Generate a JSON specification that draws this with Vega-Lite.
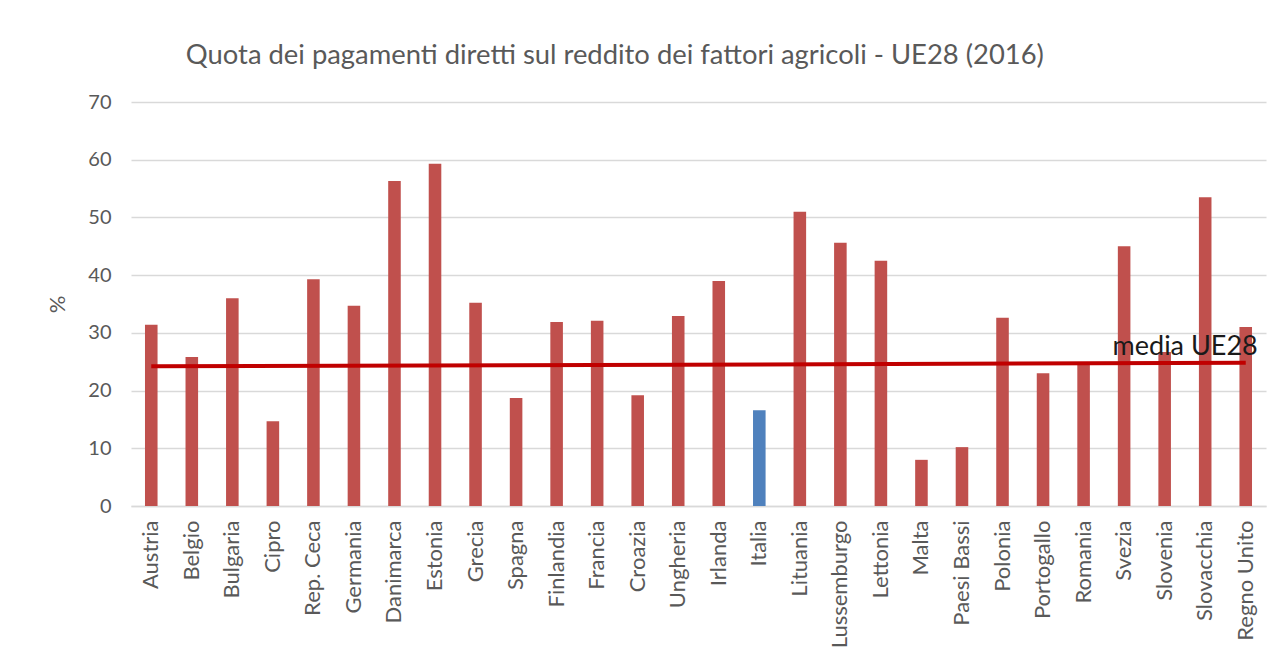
{
  "$schema": "https://vega.github.io/schema/vega-lite/v6.json",
  "width": 1135,
  "height": 404,
  "autosize": {"type": "none"},
  "padding": {"left": 131, "top": 102, "right": 18, "bottom": 153},
  "background": "white",
  "title": {
    "text": "Quota dei pagamenti diretti sul reddito dei fattori agricoli - UE28 (2016)",
    "anchor": "start",
    "dx": 139,
    "offset": 23,
    "font": "Lato",
    "fontSize": 27.4,
    "fontWeight": "normal",
    "color": "#595959"
  },
  "config": {
    "view": {"stroke": null},
    "font": "Lato"
  },
  "datasets": {
    "bars": [
      {"paese": "Austria", "quota": 31.4, "gruppo": "altri"},
      {"paese": "Belgio", "quota": 25.8, "gruppo": "altri"},
      {"paese": "Bulgaria", "quota": 36.0, "gruppo": "altri"},
      {"paese": "Cipro", "quota": 14.7, "gruppo": "altri"},
      {"paese": "Rep. Ceca", "quota": 39.3, "gruppo": "altri"},
      {"paese": "Germania", "quota": 34.7, "gruppo": "altri"},
      {"paese": "Danimarca", "quota": 56.3, "gruppo": "altri"},
      {"paese": "Estonia", "quota": 59.3, "gruppo": "altri"},
      {"paese": "Grecia", "quota": 35.2, "gruppo": "altri"},
      {"paese": "Spagna", "quota": 18.7, "gruppo": "altri"},
      {"paese": "Finlandia", "quota": 31.9, "gruppo": "altri"},
      {"paese": "Francia", "quota": 32.1, "gruppo": "altri"},
      {"paese": "Croazia", "quota": 19.2, "gruppo": "altri"},
      {"paese": "Ungheria", "quota": 32.9, "gruppo": "altri"},
      {"paese": "Irlanda", "quota": 39.0, "gruppo": "altri"},
      {"paese": "Italia", "quota": 16.6, "gruppo": "Italia"},
      {"paese": "Lituania", "quota": 51.0, "gruppo": "altri"},
      {"paese": "Lussemburgo", "quota": 45.6, "gruppo": "altri"},
      {"paese": "Lettonia", "quota": 42.5, "gruppo": "altri"},
      {"paese": "Malta", "quota": 8.0, "gruppo": "altri"},
      {"paese": "Paesi Bassi", "quota": 10.2, "gruppo": "altri"},
      {"paese": "Polonia", "quota": 32.6, "gruppo": "altri"},
      {"paese": "Portogallo", "quota": 23.0, "gruppo": "altri"},
      {"paese": "Romania", "quota": 24.5, "gruppo": "altri"},
      {"paese": "Svezia", "quota": 45.0, "gruppo": "altri"},
      {"paese": "Slovenia", "quota": 26.7, "gruppo": "altri"},
      {"paese": "Slovacchia", "quota": 53.5, "gruppo": "altri"},
      {"paese": "Regno Unito", "quota": 31.0, "gruppo": "altri"}
    ],
    "media": [
      {"paese": "Austria", "valore": 24.2},
      {"paese": "Regno Unito", "valore": 24.8}
    ],
    "etichetta": [
      {"paese": "Regno Unito", "valore": 27.6, "testo": "media UE28"}
    ]
  },
  "layer": [
    {
      "data": {"name": "bars"},
      "mark": {"type": "bar"},
      "encoding": {
        "x": {
          "field": "paese",
          "type": "nominal",
          "sort": null,
          "scale": {"paddingInner": 0.69, "paddingOuter": 0.345},
          "axis": {
            "title": null,
            "labelAngle": -90,
            "labelAlign": "right",
            "labelBaseline": "middle",
            "labelFontSize": 22,
            "labelColor": "#595959",
            "labelPadding": 14,
            "ticks": false,
            "domainColor": "#d9d9d9",
            "domainWidth": 1.5
          }
        },
        "y": {
          "field": "quota",
          "type": "quantitative",
          "scale": {"domain": [0, 70]},
          "axis": {
            "title": "%",
            "titleFontSize": 22,
            "titleFontWeight": "normal",
            "titleColor": "#595959",
            "titlePadding": 18,
            "values": [0, 10, 20, 30, 40, 50, 60, 70],
            "labelFontSize": 20,
            "labelColor": "#595959",
            "labelPadding": 20,
            "ticks": false,
            "domain": false,
            "gridColor": "#d9d9d9",
            "gridWidth": 1.5
          }
        },
        "color": {
          "field": "gruppo",
          "type": "nominal",
          "scale": {"domain": ["altri", "Italia"], "range": ["#c0504d", "#4f81bd"]},
          "legend": null
        }
      }
    },
    {
      "data": {"name": "media"},
      "mark": {"type": "line", "color": "#c00000", "strokeWidth": 4},
      "encoding": {
        "x": {"field": "paese", "type": "nominal", "sort": null},
        "y": {"field": "valore", "type": "quantitative"}
      }
    },
    {
      "data": {"name": "etichetta"},
      "mark": {"type": "text", "align": "right", "baseline": "middle", "dx": 12, "fontSize": 27, "color": "#1a1a1a", "font": "Lato"},
      "encoding": {
        "x": {"field": "paese", "type": "nominal", "sort": null},
        "y": {"field": "valore", "type": "quantitative"},
        "text": {"field": "testo"}
      }
    }
  ]
}
